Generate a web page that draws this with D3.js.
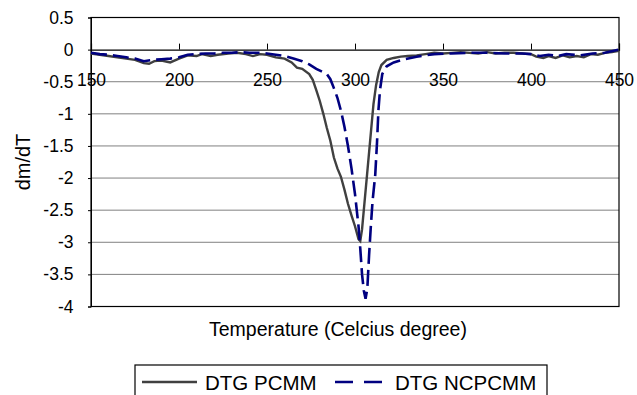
<!DOCTYPE html>
<html lang="en">
<head>
    <meta charset="UTF-8">
    <title>DTG</title>
    <script src="https://d3js.org/d3.v7.min.js"></script>
    <style>
        body { margin: 0; background: #fff; }
        text { font-family: "Liberation Sans", Arial, sans-serif; fill: #000; }
    </style>
</head>
<body>
<svg width="637" height="395"></svg>

<script>
    // temperature (°C) and dm/dT
    var tPcmm = [150, 155, 160, 165, 170, 175, 180, 183, 186, 190, 195, 200, 205, 210, 213, 218, 222, 228, 233, 238, 242, 246, 250,
        255, 260, 264, 267, 270, 274, 276, 278, 280, 282, 284, 286, 288, 290, 292, 294, 296, 298, 300, 302, 303, 304, 305,
        306.5, 308, 309.5, 310.5, 312, 313.5, 315, 318, 322, 326, 330, 335, 340, 345, 350, 355, 360, 365, 370, 375, 380,
        385, 390, 395, 400, 403, 407, 410, 414, 418, 422, 426, 430, 434, 438, 442, 446, 450];
    var vPcmm = [-0.06, -0.08, -0.1, -0.12, -0.14, -0.16, -0.21, -0.22, -0.18, -0.17, -0.2, -0.14, -0.09, -0.1, -0.07, -0.1, -0.08, -0.06, -0.05, -0.07, -0.1, -0.07, -0.08,
        -0.12, -0.14, -0.2, -0.28, -0.3, -0.38, -0.47, -0.63, -0.8, -1.0, -1.22, -1.42, -1.68, -1.85, -1.98, -2.18, -2.4, -2.58, -2.75, -2.95, -2.98, -2.8, -2.5,
        -2.05, -1.6, -1.15, -0.85, -0.55, -0.35, -0.24, -0.16, -0.13, -0.11, -0.1, -0.09, -0.07, -0.05, -0.06, -0.05, -0.04, -0.05, -0.06, -0.04, -0.06,
        -0.05, -0.05, -0.06, -0.07, -0.11, -0.13, -0.1, -0.13, -0.09, -0.12, -0.1, -0.12, -0.07, -0.08, -0.05, -0.04, -0.02];

    var tNcp = [150, 155, 160, 165, 170, 175, 180, 185, 190, 195, 200, 205, 210, 215, 220, 225, 230, 235, 240, 245, 250,
        255, 260, 265, 270, 274, 278, 281, 284, 286, 288, 290, 292, 294, 296, 298, 300, 302, 303, 304, 305, 306, 307, 308,
        309, 310, 311.5, 312.5, 313.3, 314.2, 315.5, 318, 322, 328, 335, 345, 355, 365, 375, 385, 395, 400, 405, 410,
        415, 420, 428, 435, 442, 450];
    var vNcp = [-0.05, -0.07, -0.08, -0.1, -0.12, -0.14, -0.18, -0.16, -0.15, -0.14, -0.12, -0.08, -0.07, -0.06, -0.06, -0.05, -0.05, -0.04, -0.05, -0.05, -0.06,
        -0.08, -0.1, -0.14, -0.18, -0.23, -0.3, -0.34, -0.38, -0.46, -0.6, -0.75, -0.95, -1.2, -1.5, -1.85, -2.25, -2.75, -3.1, -3.5, -3.75, -3.88, -3.72, -3.2,
        -2.75, -2.35, -1.95, -1.45, -0.95, -0.63, -0.38, -0.26, -0.2, -0.15, -0.11, -0.07, -0.06, -0.05, -0.05, -0.06, -0.06, -0.07, -0.1, -0.08,
        -0.1, -0.07, -0.09, -0.06, -0.05, 0.0];

    var xTicks = [150, 200, 250, 300, 350, 400, 450];
    var yTicks = [0.5, 0, -0.5, -1, -1.5, -2, -2.5, -3, -3.5, -4];
    var seriesNames = ['DTG PCMM', 'DTG NCPCMM'];

    var svg = d3.select('svg');
    var marge = {top: 17.5, right: 18, bottom: 88.5, left: 91},
        width = 637 - marge.left - marge.right,
        height = 395 - marge.top - marge.bottom;

    var x = d3.scaleLinear().domain([150, 450]).range([0, width]);
    var y = d3.scaleLinear().domain([-4, 0.5]).range([height, 0]);

    var g = svg.append('g')
        .attr('transform', 'translate(' + marge.left + ',' + marge.top + ')');

    // gridlines
    g.selectAll('.grid')
        .data(yTicks.filter(function (d) { return d !== 0 && d !== 0.5 && d !== -4; }))
        .enter()
        .append('line')
        .attr('x1', 0).attr('x2', width)
        .attr('y1', function (d) { return y(d); })
        .attr('y2', function (d) { return y(d); })
        .attr('stroke', '#808080')
        .attr('stroke-width', 1);

    // frame
    g.append('rect')
        .attr('width', width).attr('height', height)
        .attr('fill', 'none').attr('stroke', '#000').attr('stroke-width', 1.2);

    // plain hyphen minus like the original
    var fmt = function (d) { return String(d); };

    // y axis
    var yAxis = g.append('g')
        .call(d3.axisLeft(y).tickValues(yTicks).tickSize(3).tickFormat(fmt));
    yAxis.select('.domain').attr('stroke', '#000');
    yAxis.selectAll('text').attr('font-size', 17.5).attr('dx', -11.5)
        .style('font-family', '"Liberation Sans", Arial, sans-serif');

    // x axis at y = 0, ticks pointing up
    var xAxis = g.append('g')
        .attr('transform', 'translate(0,' + y(0) + ')')
        .call(d3.axisTop(x).tickValues(xTicks).tickSize(6).tickFormat(fmt));
    xAxis.select('.domain').attr('stroke', '#000').attr('stroke-width', 1.2);
    xAxis.selectAll('text')
        .attr('y', 36)
        .attr('font-size', 17.5)
        .style('font-family', '"Liberation Sans", Arial, sans-serif');

    // lines
    var line = d3.line()
        .x(function (d) { return x(d[0]); })
        .y(function (d) { return y(d[1]); });

    g.append('path')
        .datum(d3.zip(tPcmm, vPcmm))
        .attr('d', line)
        .attr('fill', 'none')
        .attr('stroke', '#404040')
        .attr('stroke-width', 2.4);

    g.append('path')
        .datum(d3.zip(tNcp, vNcp))
        .attr('d', line)
        .attr('fill', 'none')
        .attr('stroke', '#000080')
        .attr('stroke-width', 2.6)
        .attr('stroke-dasharray', '16,6');

    // axis titles
    svg.append('text')
        .attr('x', 338).attr('y', 336)
        .attr('text-anchor', 'middle')
        .attr('font-size', 19.5)
        .text('Temperature (Celcius degree)');

    svg.append('text')
        .attr('transform', 'translate(30,162) rotate(-90)')
        .attr('text-anchor', 'middle')
        .attr('font-size', 20)
        .text('dm/dT');

    // legend
    var lg = svg.append('g');
    lg.append('rect')
        .attr('x', 135).attr('y', 365).attr('width', 412).attr('height', 40)
        .attr('fill', '#fff').attr('stroke', '#000').attr('stroke-width', 1.2);

    var legendItems = [
        {name: seriesNames[0], x1: 142, x2: 197, tx: 205, color: '#404040', dash: null, w: 2.4},
        {name: seriesNames[1], x1: 335, x2: 387, tx: 395, color: '#000080', dash: '18,11', w: 2.6}
    ];
    legendItems.forEach(function (d) {
        lg.append('line')
            .attr('x1', d.x1).attr('x2', d.x2)
            .attr('y1', 382).attr('y2', 382)
            .attr('stroke', d.color)
            .attr('stroke-width', d.w)
            .attr('stroke-dasharray', d.dash);
        lg.append('text')
            .attr('x', d.tx).attr('y', 390)
            .attr('font-size', 20.5)
            .text(d.name);
    });
</script>
</body>
</html>
